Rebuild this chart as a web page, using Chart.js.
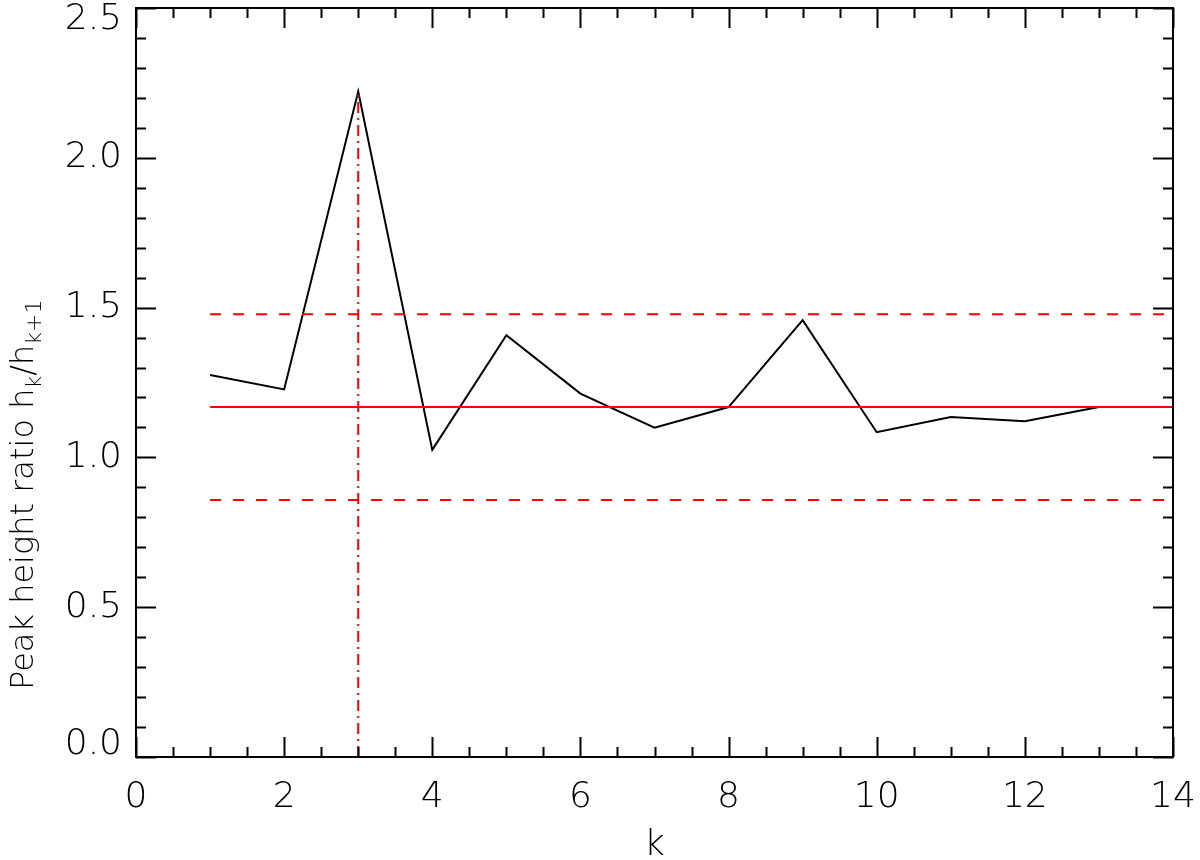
<!DOCTYPE html>
<html>
<head>
<meta charset="utf-8">
<title>Peak height ratio</title>
<script src="https://cdn.jsdelivr.net/npm/chart.js@4.4.1/dist/chart.umd.min.js"></script>
<style>
    html, body { margin: 0; padding: 0; background: #ffffff; }
    #wrap { width: 1200px; height: 860px; }
</style>
</head>
<body>
<div id="wrap"><canvas id="ratioChart" width="1200" height="860"></canvas></div>
<script>
// Data
const kValues = [1, 2, 3, 4, 5, 6, 7, 8, 9, 10, 11, 12, 13];
const ratioValues = [1.275, 1.227, 2.221, 1.025, 1.408, 1.213, 1.099, 1.168, 1.458, 1.084, 1.135, 1.121, 1.168];
const meanRatio = 1.168;
const upperBound = 1.478;
const lowerBound = 0.858;
const bandStartK = 1;
const bandEndK = 14;
const peakK = 3;
const peakRatio = 2.221;

const xTickLabels = [0, 2, 4, 6, 8, 10, 12, 14];
const yTickLabels = ['0.0', '0.5', '1.0', '1.5', '2.0', '2.5'];

const FONT = '"DejaVu Sans", "Liberation Sans", sans-serif';
const RED = '#ff0000';

// Helpers
const toPoints = (xs, ys) => xs.map((x, i) => ({ x: x, y: ys[i] }));
const hLine = (y) => [{ x: bandStartK, y: y }, { x: bandEndK, y: y }];

// Frame, inward ticks, tick labels and y title (IDL style)
const framePlugin = {
    id: 'idlFrame',
    afterDraw(chart) {
        const { ctx, chartArea: a, scales } = chart;
        const xs = scales.x;
        const ys = scales.y;
        ctx.save();
        ctx.strokeStyle = '#000';
        ctx.lineWidth = 2;
        ctx.strokeRect(a.left, a.top, a.right - a.left, a.bottom - a.top);

        ctx.beginPath();
        // x ticks every 0.5, major every 2
        for (let i = 0; i <= 28; i++) {
            const v = i * 0.5;
            const px = Math.round(xs.getPixelForValue(v)) + 0.5;
            const len = (i % 4 === 0) ? 20 : 10;
            ctx.moveTo(px, a.bottom); ctx.lineTo(px, a.bottom - len);
            ctx.moveTo(px, a.top); ctx.lineTo(px, a.top + len);
        }
        // y ticks every 0.1, major every 0.5
        for (let i = 0; i <= 25; i++) {
            const v = i * 0.1;
            const py = Math.round(ys.getPixelForValue(v)) + 0.5;
            const len = (i % 5 === 0) ? 20 : 10;
            ctx.moveTo(a.left, py); ctx.lineTo(a.left + len, py);
            ctx.moveTo(a.right, py); ctx.lineTo(a.right - len, py);
        }
        ctx.stroke();

        // tick labels
        ctx.fillStyle = '#000';
        ctx.font = '200 36px ' + FONT;
        ctx.textBaseline = 'middle';
        ctx.textAlign = 'right';
        yTickLabels.forEach((lab, i) => {
            let py = ys.getPixelForValue(parseFloat(lab));
            if (i === 0) py -= 12;
            if (i === yTickLabels.length - 1) py += 12;
            ctx.fillText(lab, a.left - 14, py);
        });
        ctx.textAlign = 'center';
        xTickLabels.forEach(v => {
            ctx.fillText(String(v), xs.getPixelForValue(v), a.bottom + 41);
        });

        // x title
        ctx.fillText('k', (a.left + a.right) / 2, a.bottom + 89);

        // y title with subscripts
        ctx.translate(33, 690);
        ctx.rotate(-Math.PI / 2);
        ctx.textAlign = 'left';
        ctx.textBaseline = 'alphabetic';
        const big = '200 32px ' + FONT;
        const small = '200 22px ' + FONT;
        const parts = [
            ['Peak height ratio h', big, 0],
            ['k', small, 8],
            ['/h', big, 0],
            ['k+1', small, 8]
        ];
        let cx = 0;
        parts.forEach(([t, f, dy]) => {
            ctx.font = f;
            ctx.fillText(t, cx, dy);
            cx += ctx.measureText(t).width;
        });
        ctx.restore();
    }
};

const ctx = document.getElementById('ratioChart').getContext('2d');
const ratioChart = new Chart(ctx, {
    type: 'scatter',
    data: {
        datasets: [
            {
                label: 'mean',
                data: hLine(meanRatio),
                showLine: true,
                borderColor: RED,
                borderWidth: 2,
                pointRadius: 0
            },
            {
                label: 'upper',
                data: hLine(upperBound),
                showLine: true,
                borderColor: RED,
                borderWidth: 2,
                borderDash: [11, 12],
                pointRadius: 0
            },
            {
                label: 'lower',
                data: hLine(lowerBound),
                showLine: true,
                borderColor: RED,
                borderWidth: 2,
                borderDash: [11, 12],
                pointRadius: 0
            },
            {
                label: 'peak',
                data: [{ x: peakK, y: 0 }, { x: peakK, y: peakRatio }],
                showLine: true,
                borderColor: RED,
                borderWidth: 2,
                borderDash: [11, 5, 2, 5],
                pointRadius: 0
            },
            {
                label: 'ratio',
                data: toPoints(kValues, ratioValues),
                showLine: true,
                borderColor: '#000000',
                borderWidth: 2,
                pointRadius: 0,
                tension: 0
            }
        ]
    },
    options: {
        responsive: false,
        animation: false,
        events: [],
        layout: { padding: { left: 0, top: 8, right: 27, bottom: 0 } },
        plugins: {
            legend: { display: false },
            tooltip: { enabled: false }
        },
        scales: {
            x: {
                type: 'linear',
                min: 0,
                max: 14,
                grid: { display: false },
                border: { display: false },
                ticks: { display: false, stepSize: 2 },
                afterFit: (scale) => { scale.height = 103; }
            },
            y: {
                type: 'linear',
                min: 0,
                max: 2.5,
                grid: { display: false },
                border: { display: false },
                ticks: { display: false, stepSize: 0.5 },
                afterFit: (scale) => { scale.width = 136; }
            }
        }
    },
    plugins: [framePlugin]
});
</script>
</body>
</html>
